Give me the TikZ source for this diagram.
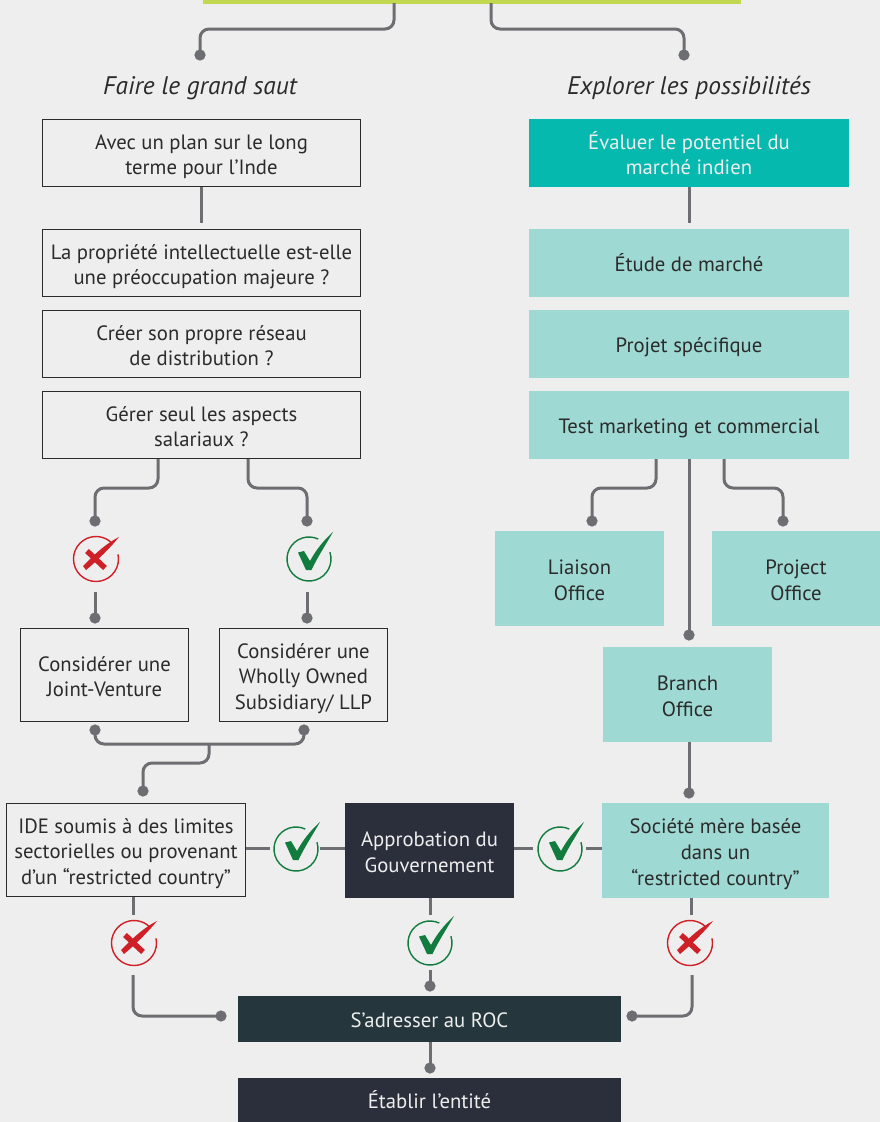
\documentclass[tikz,border=0pt]{standalone}
\usepackage{fontspec}
\setmainfont{PT Sans}
\usetikzlibrary{arrows.meta}
\definecolor{bg}{HTML}{EEEEEE}
\definecolor{lime}{HTML}{C1D84F}
\definecolor{tealA}{HTML}{06B9AE}
\definecolor{tealB}{HTML}{9FD9D3}
\definecolor{navy}{HTML}{2A2F3B}
\definecolor{slate}{HTML}{25373D}
\definecolor{wire}{HTML}{6D6E71}
\definecolor{ink}{HTML}{2B2B2B}
\definecolor{nored}{HTML}{CF2027}
\definecolor{yesgreen}{HTML}{127C3E}
\newcommand{\tx}[1]{\raisebox{-9pt}[0pt][0pt]{\begin{tabular}{@{}c@{}}#1\end{tabular}}}
\tikzset{
  x=1pt,y=-1pt,
  boxbase/.style={inner sep=0pt,font=\fontsize{20.7}{25.8}\selectfont,text=ink},
  outlined/.style={boxbase,draw=ink,line width=1.5pt},
  flowA/.style={boxbase,fill=tealA,text=bg},
  flowB/.style={boxbase,fill=tealB},
  flowC/.style={boxbase,fill=navy,text=bg},
  flowD/.style={boxbase,fill=slate,text=bg},
  wideo/.style={minimum width=318pt,minimum height=67pt},
  smallo/.style={minimum width=168pt,minimum height=93pt},
  wideb/.style={minimum width=320pt,minimum height=68pt},
  smallb/.style={minimum width=169pt,minimum height=95pt},
  heading/.style={inner sep=0pt,font=\fontsize{25.4}{30}\selectfont\itshape,text=ink},
  wireline/.style={draw=wire,line width=3pt,rounded corners=9pt},
  dotted end/.style={wireline,-{Circle[length=11pt,width=11pt]}},
  dotted both/.style={wireline,{Circle[length=11pt,width=11pt]}-{Circle[length=11pt,width=11pt]}},
  okmark/.pic={
    \draw[yesgreen,line width=1.4pt] (-18:22) arc[start angle=-18,end angle=295,radius=22];
    \fill[yesgreen] (-11,-6.5) -- (-5,-8) -- (1,2) .. controls (7,-9) and (14,-18) .. (24,-27)
      .. controls (16,-13) and (8,-1) .. (2.5,11) -- (-3,11) -- cycle;
  },
  nomark/.pic={
    \draw[nored,line width=1.4pt] (-12:22.5) arc[start angle=-12,end angle=318,radius=22.5];
    \fill[nored] (-13,7) .. controls (-2,-4) and (9,-15) .. (23,-22)
      .. controls (14,-11) and (2,1) .. (-10,11) -- cycle;
    \draw[nored,line width=5.5pt] (-9,-8) -- (9,9);
  },
}
\begin{document}
\begin{tikzpicture}
\useasboundingbox (0,0) rectangle (880,1122);
\fill[bg] (0,0) rectangle (880,1122);
\node[fill=lime,inner sep=0pt,minimum width=538pt,minimum height=4pt] (bar) at (472,2) {};
\node[heading] (hl) at (200,88) {Faire le grand saut};
\node[heading] (hr) at (689,88) {Explorer les possibilités};
% left column
\node[outlined,wideo] (a) at (201.5,153) {\tx{Avec un plan sur le long\\terme pour l’Inde}};
\node[outlined,wideo] (b) at (201.5,263) {\tx{La propriété intellectuelle est-elle\\une préoccupation majeure ?}};
\node[outlined,wideo] (c) at (201.5,344) {\tx{Créer son propre réseau\\de distribution ?}};
\node[outlined,wideo] (d) at (201.5,425) {\tx{Gérer seul les aspects\\salariaux ?}};
\node[outlined,smallo] (jv) at (104.5,675) {\tx{Considérer une\\Joint-Venture}};
\node[outlined,smallo] (wos) at (303.5,675) {\tx{Considérer une\\Wholly Owned\\Subsidiary/ LLP}};
% right column
\node[flowA,wideb] (e) at (689,153) {\tx{Évaluer le potentiel du\\marché indien}};
\node[flowB,wideb] (f) at (689,263) {\tx{Étude de marché}};
\node[flowB,wideb] (g) at (689,344) {\tx{Projet spécifique}};
\node[flowB,wideb] (h) at (689,425) {\tx{Test marketing et commercial}};
\node[flowB,smallb] (lo) at (579.5,578.5) {\tx{Liaison\\Office}};
\node[flowB,smallb] (po) at (796,578.5) {\tx{Project\\Office}};
\node[flowB,smallb] (bo) at (687.5,694.5) {\tx{Branch\\Office}};
% lower band
\node[outlined,minimum width=239pt,minimum height=93pt] (ide) at (126,850) {\tx{IDE soumis à des limites\\sectorielles ou provenant\\d’un “restricted country”}};
\node[flowC,minimum width=169pt,minimum height=95pt] (gov) at (429.5,850.5) {\tx{Approbation du\\Gouvernement}};
\node[flowB,minimum width=227pt,minimum height=95pt] (soc) at (715.5,850.5) {\tx{Société mère basée\\dans un\\“restricted country”}};
\node[flowD,minimum width=383pt,minimum height=46pt] (roc) at (429.5,1019) {\tx{S’adresser au ROC}};
\node[flowC,minimum width=383pt,minimum height=44pt] (etab) at (429.5,1100) {\tx{Établir l’entité}};
% marks
\pic at (96,559) {nomark};
\pic at (309,559) {okmark};
\pic at (296,849) {okmark};
\pic at (560,849) {okmark};
\pic at (430,943) {okmark};
\pic at (134,943) {nomark};
\pic at (690,943) {nomark};
% free ends of connectors
\foreach \n/\px/\py in {
  t1/394/3,t2/200/60.5,t3/491/3,t4/684/60.5,
  a1/201.5/187,b1/201.5/223,e1/689/187,f1/689/223,
  d1/158/459,d2/95/526.5,d3/248/459,d4/307/526.5,
  x1/95/592,x2/95/623.5,y1/307/592,y2/307/623.5,
  j1/95/724.5,j2/304/724.5,j3/209/744,j4/143/796.5,
  h1/656/459,h2/592/526.5,h3/724/459,h4/783/526.5,h5/689/459,h6/689/640.5,
  o1/689/742,o2/689/798.5,
  i1/246/848,i2/270/848,i3/320/848,i4/345/848,
  k1/514/848,k2/533/848,k3/586/848,k4/602/848,
  m1/133/897,m2/133/915,m3/133/975,m4/226.5/1016,
  n1/430/898,n2/430/915,n3/430/970,n4/430/991.5,
  p1/691/898,p2/691/915,p3/692/975,p4/626.5/1016,
  r1/430/1042,r2/430/1073.5}
  {\coordinate (\n) at (\px,\py);}
% connectors
\draw[dotted end] (t1) |- (t2 |- 0,29) -- (t2);
\draw[dotted end] (t3) |- (t4 |- 0,29) -- (t4);
\draw[wireline] (a1) -- (b1);
\draw[wireline] (e1) -- (f1);
\draw[dotted end] (d1) |- (d2 |- 0,488) -- (d2);
\draw[dotted end] (d3) |- (d4 |- 0,488) -- (d4);
\draw[dotted end] (x1) -- (x2);
\draw[dotted end] (y1) -- (y2);
\draw[dotted both] (j1) |- (j3) -| (j2);
\draw[dotted end] (j3) |- (j4 |- 0,763) -- (j4);
\draw[dotted end] (h1) |- (h2 |- 0,488) -- (h2);
\draw[dotted end] (h3) |- (h4 |- 0,488) -- (h4);
\draw[dotted end] (h5) -- (h6);
\draw[dotted end] (o1) -- (o2);
\draw[wireline] (i1) -- (i2);
\draw[wireline] (i3) -- (i4);
\draw[wireline] (k1) -- (k2);
\draw[wireline] (k3) -- (k4);
\draw[wireline] (m1) -- (m2);
\draw[dotted end] (m3) |- (m4);
\draw[wireline] (n1) -- (n2);
\draw[dotted end] (n3) -- (n4);
\draw[wireline] (p1) -- (p2);
\draw[dotted end] (p3) |- (p4);
\draw[dotted end] (r1) -- (r2);
\end{tikzpicture}
\end{document}
